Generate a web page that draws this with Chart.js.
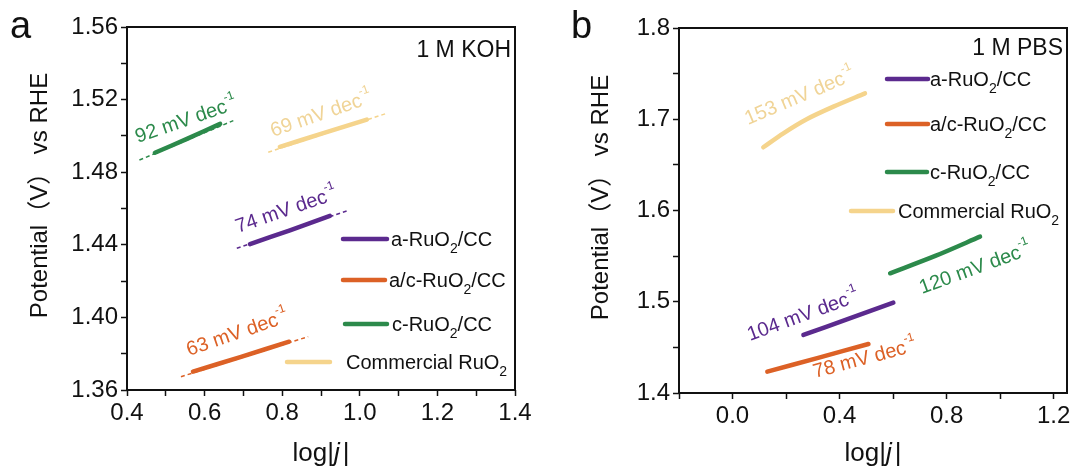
<!DOCTYPE html>
<html>
<head>
<meta charset="utf-8">
<script src="https://cdn.jsdelivr.net/npm/chart.js@4.4.1/dist/chart.umd.min.js"></script>
<style>
  body { margin: 0; background: #fff; }
  #wrap { position: relative; width: 1079px; height: 470px; }
  canvas { position: absolute; top: 0; }
</style>
</head>
<body>
<div id="wrap">
  <canvas id="kohChart" width="540" height="470" style="left:0"></canvas>
  <canvas id="pbsChart" width="539" height="470" style="left:540px"></canvas>
</div>
<script>
const FONT = "'Liberation Sans', Arial, 'Noto Sans CJK SC', sans-serif";

// colours of the four catalysts
const colA = "#5b2a8e";   // a-RuO2/CC
const colAC = "#dc6126";  // a/c-RuO2/CC
const colC = "#2c8a4b";   // c-RuO2/CC
const colCom = "#f5d48c"; // Commercial RuO2

// ---- panel a : 1 M KOH ----
const kohAX = [0.717, 0.82, 0.923];
const kohAY = [1.4404, 1.448, 1.4559];
const kohAFitX = [0.683, 0.966];
const kohAFitY = [1.4381, 1.4586];

const kohACX = [0.570, 0.694, 0.818];
const kohACY = [1.3701, 1.3783, 1.3866];
const kohACFitX = [0.539, 0.867];
const kohACFitY = [1.3673, 1.3894];

const kohCX = [0.472, 0.556, 0.640];
const kohCY = [1.4907, 1.4985, 1.5066];
const kohCFitX = [0.432, 0.674];
const kohCFitY = [1.4867, 1.5084];

const kohComX = [0.794, 0.906, 1.018];
const kohComY = [1.494, 1.5015, 1.509];
const kohComFitX = [0.764, 1.069];
const kohComFitY = [1.491, 1.5124];

// Tafel slopes (mV dec-1) and where their labels sit, order: a, a/c, c, commercial
const kohSlopes = [74, 63, 92, 69];
const kohLabelX = [0.686, 0.560, 0.428, 0.776];
const kohLabelY = [1.4465, 1.3787, 1.4961, 1.4994];
const kohLabelAngle = [-19, -19, -19, -19];

// ---- panel b : 1 M PBS ----
const pbsAX = [0.265, 0.43, 0.601];
const pbsAY = [1.4636, 1.481, 1.499];

const pbsACX = [0.130, 0.32, 0.508];
const pbsACY = [1.4234, 1.4385, 1.4537];

const pbsCX = [0.589, 0.76, 0.925];
const pbsCY = [1.5312, 1.5505, 1.5713];

const pbsComX = [0.115, 0.19, 0.277, 0.377, 0.495];
const pbsComY = [1.6693, 1.6846, 1.700, 1.7138, 1.7284];

const pbsSlopes = [104, 78, 120, 153];
const pbsLabelX = [0.065, 0.308, 0.708, 0.058];
const pbsLabelY = [1.457, 1.4164, 1.5085, 1.6937];
const pbsLabelAngle = [-20, -15, -20, -23];

function toPoints(xs, ys) {
  return xs.map((x, i) => ({ x: x, y: ys[i] }));
}

function solid(xs, ys, color) {
  return {
    data: toPoints(xs, ys),
    borderColor: color,
    borderWidth: 4.5,
    borderCapStyle: "round",
    pointRadius: 0,
    showLine: true,
    tension: 0.3,
  };
}

function dashed(xs, ys, color) {
  return {
    data: toPoints(xs, ys),
    borderColor: color,
    borderWidth: 1.5,
    borderDash: [4, 3],
    pointRadius: 0,
    showLine: true,
  };
}

// draw a run of text pieces (sub/superscripts, italics)
function drawParts(ctx, x, y, parts, color) {
  ctx.fillStyle = color;
  ctx.textAlign = "left";
  ctx.textBaseline = "alphabetic";
  let cx = x;
  parts.forEach((p) => {
    ctx.font = (p.italic ? "italic " : "") + p.size + "px " + FONT;
    ctx.fillText(p.text, cx, y + (p.dy || 0));
    cx += ctx.measureText(p.text).width + (p.gap || 0);
  });
}

function nameParts(prefix) {
  return [
    { text: prefix + "RuO", size: 20 },
    { text: "2", size: 14, dy: 7 },
    { text: "/CC", size: 20 },
  ];
}
const comParts = [
  { text: "Commercial RuO", size: 20 },
  { text: "2", size: 14, dy: 7 },
];
const legendParts = [nameParts("a-"), nameParts("a/c-"), nameParts("c-"), comParts];
const legendColors = [colA, colAC, colC, colCom];
const labelColors = [colA, colAC, colC, "#f0d497"];

function makeDecor(cfg) {
  return {
    id: "decor",
    afterDraw(chart) {
      const ctx = chart.ctx;
      const area = chart.chartArea;
      const xs = chart.scales.x;
      const ys = chart.scales.y;
      ctx.save();

      // frame
      ctx.strokeStyle = "#111";
      ctx.lineWidth = 2;
      ctx.strokeRect(area.left, area.top, area.right - area.left, area.bottom - area.top);

      // panel letter
      ctx.fillStyle = "#111";
      ctx.font = "38px " + FONT;
      ctx.textAlign = "left";
      ctx.textBaseline = "alphabetic";
      ctx.fillText(cfg.letter, cfg.letterX, 38);

      // electrolyte
      ctx.font = "23px " + FONT;
      ctx.textAlign = "right";
      ctx.fillText(cfg.electrolyte, area.right - 4, area.top + cfg.elecDy);

      // y title
      ctx.save();
      ctx.translate(cfg.yTitleX, (area.top + area.bottom) / 2 - 13);
      ctx.rotate(-Math.PI / 2);
      ctx.font = "24px " + FONT;
      ctx.textAlign = "center";
      ctx.fillStyle = "#111";
      ctx.fillText("Potential（V） vs RHE", 0, 8);
      ctx.restore();

      // x title  log|j|
      const xt = [
        { text: "log|", size: 26 },
        { text: "j", size: 26, italic: true, gap: 3 },
        { text: "|", size: 26 },
      ];
      ctx.font = "26px " + FONT;
      const w = ctx.measureText("log||").width + ctx.measureText("j").width + 3;
      drawParts(ctx, (area.left + area.right) / 2 - w / 2, 461, xt, "#111");

      // slope labels
      cfg.slopes.forEach((s, i) => {
        ctx.save();
        ctx.translate(xs.getPixelForValue(cfg.labelX[i]), ys.getPixelForValue(cfg.labelY[i]));
        ctx.rotate((cfg.labelAngle[i] * Math.PI) / 180);
        drawParts(ctx, 0, 0, [
          { text: s + " mV dec", size: 20 },
          { text: "-1", size: 12, dy: -11 },
        ], labelColors[i]);
        ctx.restore();
      });

      // legend
      cfg.legend.forEach((item, i) => {
        ctx.strokeStyle = legendColors[i];
        ctx.lineWidth = 4.5;
        ctx.lineCap = "round";
        ctx.beginPath();
        ctx.moveTo(item[0], item[2]);
        ctx.lineTo(item[1], item[2]);
        ctx.stroke();
        drawParts(ctx, item[3], item[2] + 7, legendParts[i], "#111");
      });
      ctx.restore();
    },
  };
}

function tickLabel(step, digits) {
  return function (value) {
    return Math.round(value / step) % 2 === 0 ? value.toFixed(digits) : "";
  };
}

function baseOptions(cfg) {
  return {
    responsive: false,
    animation: false,
    devicePixelRatio: 1,
    layout: { padding: { left: 0, right: cfg.padRight, top: cfg.padTop, bottom: 0 } },
    plugins: { legend: { display: false }, tooltip: { enabled: false } },
    scales: {
      x: {
        type: "linear",
        min: cfg.xMin,
        max: cfg.xMax,
        afterFit: (scale) => { scale.height = cfg.xHeight; },
        border: { display: false },
        grid: { drawOnChartArea: false, tickLength: 6, tickWidth: 1.5, tickColor: "#111" },
        ticks: {
          stepSize: cfg.xStep,
          includeBounds: false,
          autoSkip: false,
          maxRotation: 0,
          padding: 3,
          color: "#111",
          font: { family: FONT, size: 24 },
          callback: tickLabel(cfg.xStep, 1),
        },
      },
      y: {
        type: "linear",
        min: cfg.yMin,
        max: cfg.yMax,
        afterFit: (scale) => { scale.width = cfg.yWidth; },
        border: { display: false },
        grid: { drawOnChartArea: false, tickLength: 6, tickWidth: 1.5, tickColor: "#111" },
        ticks: {
          stepSize: cfg.yStep,
          includeBounds: false,
          autoSkip: false,
          padding: 3,
          color: "#111",
          font: { family: FONT, size: 24 },
          callback: tickLabel(cfg.yStep, cfg.yDigits),
        },
      },
    },
  };
}

// panel a
new Chart(document.getElementById("kohChart"), {
  type: "scatter",
  data: {
    datasets: [
      dashed(kohAFitX, kohAFitY, colA),
      dashed(kohACFitX, kohACFitY, colAC),
      dashed(kohCFitX, kohCFitY, colC),
      dashed(kohComFitX, kohComFitY, colCom),
      solid(kohAX, kohAY, colA),
      solid(kohACX, kohACY, colAC),
      solid(kohCX, kohCY, colC),
      solid(kohComX, kohComY, colCom),
    ],
  },
  options: baseOptions({
    padRight: 25, padTop: 27, xHeight: 80, yWidth: 127,
    xMin: 0.4, xMax: 1.4, xStep: 0.1,
    yMin: 1.36, yMax: 1.56, yStep: 0.02, yDigits: 2,
  }),
  plugins: [makeDecor({
    letter: "a", letterX: 10, electrolyte: "1 M KOH", elecDy: 30, yTitleX: 39,
    slopes: kohSlopes, labelX: kohLabelX, labelY: kohLabelY, labelAngle: kohLabelAngle,
    // [x1, x2, y, textX]
    legend: [[343, 387, 239, 391], [343, 385, 280, 389], [345, 387, 324, 392], [287, 330, 362, 346]],
  })],
});

// panel b
new Chart(document.getElementById("pbsChart"), {
  type: "scatter",
  data: {
    datasets: [
      solid(pbsAX, pbsAY, colA),
      solid(pbsACX, pbsACY, colAC),
      solid(pbsCX, pbsCY, colC),
      solid(pbsComX, pbsComY, colCom),
    ],
  },
  options: baseOptions({
    padRight: 12, padTop: 28, xHeight: 77, yWidth: 139,
    xMin: -0.2, xMax: 1.25, xStep: 0.2,
    yMin: 1.4, yMax: 1.8, yStep: 0.05, yDigits: 1,
  }),
  plugins: [makeDecor({
    letter: "b", letterX: 31, electrolyte: "1 M PBS", elecDy: 27, yTitleX: 60,
    slopes: pbsSlopes, labelX: pbsLabelX, labelY: pbsLabelY, labelAngle: pbsLabelAngle,
    legend: [[347, 388, 79, 390], [347, 388, 124, 390], [347, 387, 172, 390], [311, 353, 211, 358]],
  })],
});
</script>
</body>
</html>
